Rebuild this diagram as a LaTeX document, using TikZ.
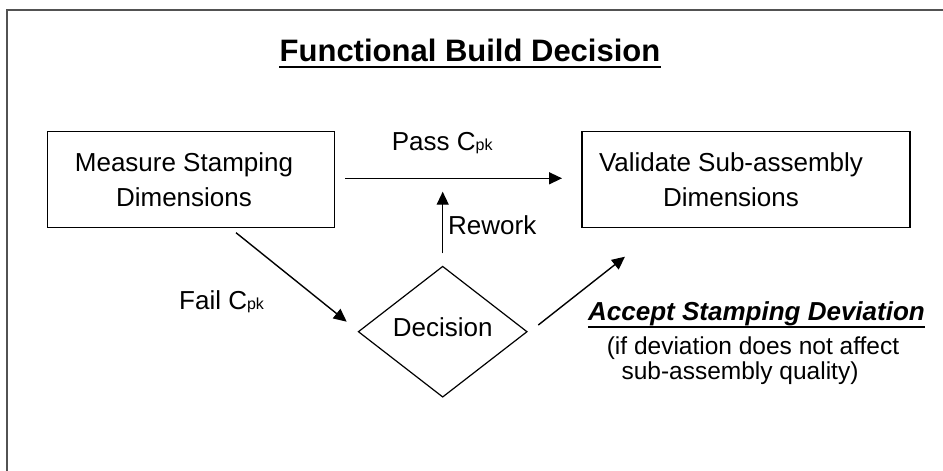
\documentclass[tikz,border=0pt]{standalone}
\usepackage{fontspec}
\setmainfont{Liberation Sans}
\usetikzlibrary{arrows.meta,shapes.geometric}
\begin{document}
\begin{tikzpicture}[x=1pt,y=-1pt,
  frameline/.style={draw=black!68,line width=2.5pt},
  stepbox/.style={draw,line width=1.4pt,rectangle,inner sep=0pt},
  decisionbox/.style={draw,line width=1.2pt,diamond,inner sep=0pt,aspect=1.29,
    minimum width=169pt,minimum height=131pt},
  txt/.style={inner sep=0pt,font=\fontsize{26}{35}\selectfont,align=center},
  small/.style={inner sep=0pt,font=\fontsize{24.5}{25}\selectfont,align=center},
  flow/.style={line width=1.4pt,-{Triangle[length=13pt,width=12pt]}}]
\newcommand{\cpk}{C{\fontsize{16}{16}\selectfont pk}}
\useasboundingbox (0,0) rectangle (943,471);
\begin{scope}
  \clip (0,0) rectangle (943,471);
  \draw[frameline] (7,10) rectangle (1000,520);
\end{scope}

% title
\node[inner sep=0pt,anchor=base,font=\bfseries\fontsize{31}{37}\selectfont] (title) at (470,61) {Functional Build Decision};
\draw[line width=2.5pt] ([yshift=-6pt]title.base west) -- ([yshift=-6pt]title.base east);

% process boxes
\node[stepbox,minimum width=287pt,minimum height=96pt] (measure) at (190.8,179.7) {};
\node[txt] (measuretxt) at (184,179.7) {Measure Stamping\\Dimensions};
\node[stepbox,minimum width=328pt,minimum height=96pt] (validate) at (746,179.7) {};
\node[txt] (validatetxt) at (731,179.7) {Validate Sub-assembly\\Dimensions};

% decision
\node[decisionbox] (decision) at (442.7,331.7) {};
\node[txt] (decisiontxt) at (442.7,327.7) {Decision};

% connector ends
\coordinate (passA) at (345,178.3);
\coordinate (passB) at (562,178.3);
\coordinate (reworkA) at (442.7,253.3);
\coordinate (reworkB) at (442.7,191.7);
\coordinate (failA) at (236,232.7);
\coordinate (failB) at (346.7,321.7);
\coordinate (acceptA) at (538.3,325);
\coordinate (acceptB) at (625,256.7);

\draw[flow] (passA) -- (passB);
\draw[flow] (reworkA) -- (reworkB);
\draw[flow] (failA) -- (failB);
\draw[flow] (acceptA) -- (acceptB);

% labels
\node[txt,anchor=base west] (passlbl) at (391.7,150.7) {Pass \cpk};
\node[txt,anchor=base west] (reworklbl) at (448,234) {Rework};
\node[txt,anchor=base west] (faillbl) at (179,309) {Fail \cpk};
\node[txt,anchor=base west,font=\bfseries\itshape\fontsize{26}{35}\selectfont] (acceptlbl) at (588,320) {Accept Stamping Deviation};
\draw[line width=2.5pt] ([yshift=-7pt]acceptlbl.base west) -- ([yshift=-7pt]acceptlbl.base east);
\node[small,anchor=north] (notelbl) at (753,337) {(if deviation does not affect\\sub-assembly quality)\hspace*{26pt}};
\end{tikzpicture}
\end{document}
